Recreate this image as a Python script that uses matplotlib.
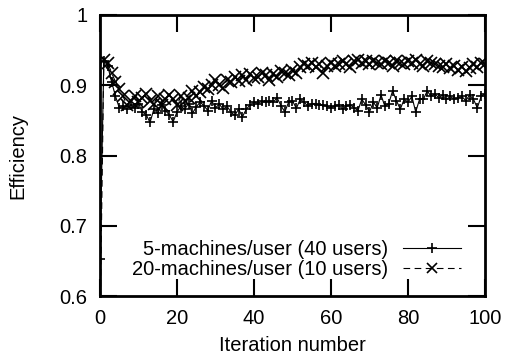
import matplotlib
matplotlib.use("Agg")
import matplotlib.pyplot as plt

plt.rcParams['font.family'] = ['Liberation Sans', 'DejaVu Sans']

iterations = list(range(101))

eff_5m = [0.653, 0.935, 0.928, 0.905, 0.885, 0.868, 0.870, 0.866, 0.872, 0.868,
          0.874, 0.862, 0.858, 0.847, 0.866, 0.860, 0.872, 0.864, 0.858, 0.848,
          0.862, 0.870, 0.866, 0.874, 0.860, 0.869, 0.876, 0.871, 0.864, 0.878,
          0.868, 0.873, 0.866, 0.870, 0.862, 0.857, 0.866, 0.855, 0.866, 0.872,
          0.876, 0.874, 0.877, 0.876, 0.878, 0.876, 0.882, 0.871, 0.862, 0.876,
          0.878, 0.867, 0.880, 0.876, 0.870, 0.874, 0.874, 0.872, 0.872, 0.870,
          0.868, 0.871, 0.872, 0.866, 0.870, 0.872, 0.868, 0.864, 0.880, 0.872,
          0.862, 0.876, 0.868, 0.886, 0.870, 0.874, 0.892, 0.878, 0.866, 0.880,
          0.876, 0.884, 0.862, 0.880, 0.880, 0.892, 0.884, 0.888, 0.882, 0.886,
          0.880, 0.884, 0.880, 0.882, 0.884, 0.878, 0.886, 0.880, 0.868, 0.884,
          0.888]

eff_20m = [0.550, 0.936, 0.932, 0.918, 0.905, 0.895, 0.884, 0.872, 0.878, 0.884,
           0.876, 0.882, 0.888, 0.878, 0.874, 0.884, 0.872, 0.880, 0.886, 0.880,
           0.872, 0.884, 0.878, 0.882, 0.892, 0.884, 0.890, 0.898, 0.894, 0.900,
           0.908, 0.900, 0.896, 0.908, 0.904, 0.912, 0.906, 0.914, 0.908, 0.916,
           0.910, 0.912, 0.918, 0.914, 0.908, 0.916, 0.912, 0.920, 0.918, 0.914,
           0.922, 0.918, 0.926, 0.930, 0.928, 0.932, 0.926, 0.930, 0.918, 0.928,
           0.932, 0.928, 0.930, 0.934, 0.930, 0.926, 0.934, 0.936, 0.932, 0.934,
           0.930, 0.934, 0.932, 0.930, 0.934, 0.932, 0.928, 0.934, 0.932, 0.930,
           0.934, 0.932, 0.936, 0.930, 0.928, 0.934, 0.932, 0.930, 0.928, 0.926,
           0.930, 0.924, 0.928, 0.922, 0.926, 0.920, 0.924, 0.930, 0.926, 0.932,
           0.930]

labels = ['5-machines/user (40 users)', '20-machines/user (10 users)']

fs = 14.5

fig = plt.figure(figsize=(5.06, 3.56), dpi=100)
ax = fig.add_axes([0.1976, 0.1685, 0.7609, 0.7894])

ax.plot(iterations, eff_5m, color='black', lw=0.8, marker='+', ms=7.5, mew=1.2,
        label=labels[0])
ax.plot(iterations, eff_20m, color='black', lw=0.8, ls=(0, (6, 4)), marker='x',
        ms=8.5, mew=1.2, label=labels[1])

ax.set_xlim(0, 100)
ax.set_ylim(0.6, 1.0)
ax.set_xticks([0, 20, 40, 60, 80, 100])
ax.set_yticks([0.6, 0.7, 0.8, 0.9, 1.0])
ax.set_yticklabels(['0.6', '0.7', '0.8', '0.9', '1'])
ax.tick_params(direction='in', length=12, width=1.5, top=True, right=True,
               labelsize=fs, pad=9)
for s in ax.spines.values():
    s.set_linewidth(2)

ax.set_xlabel('Iteration number', fontsize=fs, labelpad=6)
ax.set_ylabel('Efficiency', fontsize=fs, va='center')
ax.yaxis.set_label_coords(-0.213, 0.5)

ax.legend(loc='lower right', bbox_to_anchor=(0.938, 0.062), frameon=False,
          markerfirst=False, fontsize=fs, handlelength=2.9, handletextpad=0.74,
          labelspacing=0.02, borderaxespad=0, borderpad=0, markerscale=0.9)

fig.savefig('out.png', dpi=100)
